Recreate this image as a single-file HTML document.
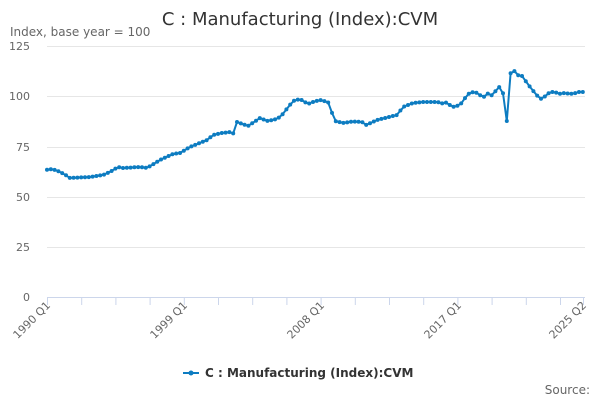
<!DOCTYPE html>
<html><head><meta charset="utf-8"><style>
body{margin:0;background:#fff;font-family:"DejaVu Sans","Liberation Sans",sans-serif;}
svg text{font-family:"DejaVu Sans","Liberation Sans",sans-serif;}
</style></head><body>
<svg id="s" width="600" height="400" xmlns="http://www.w3.org/2000/svg">
<text x="300" y="25" text-anchor="middle" font-size="18" fill="#333">C : Manufacturing (Index):CVM</text>
<text x="10" y="36" font-size="12" fill="#666">Index, base year = 100</text>
<g stroke="#e6e6e6" stroke-width="1">
<line x1="47" x2="585" y1="46.5" y2="46.5"/><line x1="47" x2="585" y1="96.5" y2="96.5"/>
<line x1="47" x2="585" y1="147.5" y2="147.5"/><line x1="47" x2="585" y1="197.5" y2="197.5"/>
<line x1="47" x2="585" y1="247.5" y2="247.5"/>
</g>
<line x1="47" x2="585" y1="297.5" y2="297.5" stroke="#ccd6eb"/>
<g font-size="11" fill="#666" text-anchor="end">
<text x="30" y="50">125</text><text x="30" y="100">100</text><text x="30" y="151">75</text>
<text x="30" y="201">50</text><text x="30" y="251">25</text><text x="30" y="301">0</text>
</g>
<g id="ticks" stroke="#ccd6eb"></g>
<g font-size="11" fill="#666" text-anchor="end">
<text transform="translate(51,306) rotate(-45)">1990 Q1</text>
<text transform="translate(188,306) rotate(-45)">1999 Q1</text>
<text transform="translate(325,306) rotate(-45)">2008 Q1</text>
<text transform="translate(462,306) rotate(-45)">2017 Q1</text>
<text transform="translate(587,306) rotate(-45)">2025 Q2</text>
</g>
<polyline id="ln" fill="none" stroke="#0d7cc1" stroke-width="2"/>
<g id="mk" fill="#0d7cc1"></g>
<line x1="183" x2="199" y1="373" y2="373" stroke="#0d7cc1" stroke-width="2"/>
<circle cx="191" cy="373" r="2.5" fill="#0d7cc1"/>
<text x="205" y="377" font-size="12" font-weight="bold" fill="#333">C : Manufacturing (Index):CVM</text>
<text x="590" y="394" font-size="12" fill="#666" text-anchor="end">Source:</text>
</svg>
<script>
var k=[[46,170],[52,169],[58,171],[64,174],[70,178],[80,177.5],[90,177],[103,175],[110,172],[118,167],[123,168],[140,167],[147,168],[160,160],[173,154],[180,153],[190,147],[207,140],[213,135],[222,133],[230,132],[233,134],[237,122],[248,126],[260,118],[267,121],[277,119],[282,115],[293,101],[300,99],[308,104],[313,102],[320,100],[328,102],[335,121],[343,123],[353,121.5],[362,122],[366,125],[377,120],[397,115],[403,107],[413,103],[423,102],[438,102],[441,104],[445,102],[453,107],[460,105],[468,94],[473,92],[478,93],[483,98],[487,93],[491,96],[502,84],[506,121],[509,76],[513,69],[517,75],[522,76],[530,87],[540,99],[543,98],[550,92],[555,92],[559,94],[563,93],[573,94],[578,92],[583,92]];
function yAt(x){for(var i=1;i<k.length;i++){if(x<=k[i][0]){var a=k[i-1],b=k[i];return a[1]+(b[1]-a[1])*(x-a[0])/(b[0]-a[0]);}}return k[k.length-1][1];}
var pts=[],mk="",tk="";
for(var q=0;q<=141;q++){var x=47+q*3.8;var y=(q==121)?121:yAt(x);pts.push(x.toFixed(1)+","+y.toFixed(1));mk+='<circle cx="'+x.toFixed(1)+'" cy="'+y.toFixed(1)+'" r="2"/>';}
document.getElementById("ln").setAttribute("points",pts.join(" "));
document.getElementById("mk").innerHTML=mk;
for(var t=0;t<=15;t++){var x=47.5+t*34.2;tk+='<line x1="'+x+'" x2="'+x+'" y1="297" y2="305"/>';}
tk+='<line x1="583.5" x2="583.5" y1="297" y2="305"/>';
document.getElementById("ticks").innerHTML=tk;
</script>
</body></html>
